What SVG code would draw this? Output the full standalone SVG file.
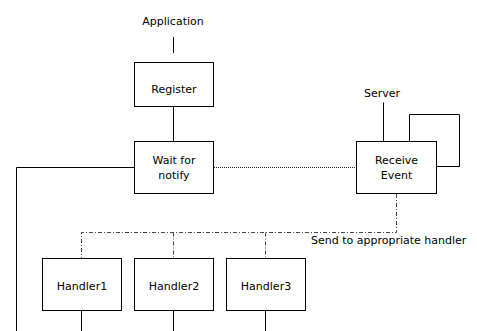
<svg xmlns="http://www.w3.org/2000/svg" width="477" height="331" viewBox="0 0 477 331">
  <style>
    .box { fill: #ffffff; stroke: #000000; stroke-width: 1; }
    .lbl { font-family: "DejaVu Sans", Verdana, sans-serif; font-size: 11px; fill: #000000; }
    .mid { text-anchor: middle; }
    .solid { fill: none; stroke: #000000; stroke-width: 1; }
    .dotted { fill: none; stroke: #222222; stroke-width: 1; stroke-dasharray: 1 1; }
    .dashdot { fill: none; stroke: #444444; stroke-width: 1; stroke-dasharray: 4 2 1 2; }
  </style>
  <rect width="477" height="331" fill="#ffffff"/>

  <!-- connectors -->
  <g id="connectors">
    <path class="solid" d="M173.5 37 V53"/>
    <path class="solid" d="M173.5 106.5 V141.5"/>
    <path class="solid" d="M383.5 102.5 V141.5"/>
    <path class="solid" d="M409.5 141.5 V114.5 H459.5 V166.5 H436.5"/>
    <path class="dotted" d="M214 167.5 H356"/>
    <path class="solid" d="M134.5 167.5 H16.5 V331"/>
    <path class="dashdot" d="M396.5 194 V232.5 H81.5 V258"/>
    <path class="dashdot" d="M173.5 232.5 V258"/>
    <path class="dashdot" d="M265.5 232.5 V258"/>
    <path class="solid" d="M81.5 310.5 V331"/>
    <path class="solid" d="M173.5 310.5 V331"/>
    <path class="solid" d="M265.5 310.5 V331"/>
  </g>

  <!-- free labels -->
  <g id="label-application">
    <text class="lbl mid" x="173" y="25">Application</text>
  </g>
  <g id="label-server">
    <text class="lbl mid" x="382" y="96.5">Server</text>
  </g>
  <g id="label-send">
    <text class="lbl" x="311" y="244">Send to appropriate handler</text>
  </g>

  <!-- nodes -->
  <g id="register">
    <rect class="box" x="134.5" y="62.5" width="79" height="44"/>
    <text class="lbl mid" x="174" y="92.5">Register</text>
  </g>
  <g id="wait-for-notify">
    <rect class="box" x="134.5" y="141.5" width="79" height="52"/>
    <text class="lbl mid" x="174" y="164">Wait for</text>
    <text class="lbl mid" x="174" y="179">notify</text>
  </g>
  <g id="receive-event">
    <rect class="box" x="356.5" y="141.5" width="80" height="52"/>
    <text class="lbl mid" x="396.5" y="163.5">Receive</text>
    <text class="lbl mid" x="396.5" y="178.5">Event</text>
  </g>
  <g id="handler1">
    <rect class="box" x="42.5" y="258.5" width="79" height="52"/>
    <text class="lbl mid" x="82" y="290">Handler1</text>
  </g>
  <g id="handler2">
    <rect class="box" x="134.5" y="258.5" width="79" height="52"/>
    <text class="lbl mid" x="174" y="290">Handler2</text>
  </g>
  <g id="handler3">
    <rect class="box" x="226.5" y="258.5" width="79" height="52"/>
    <text class="lbl mid" x="266" y="290">Handler3</text>
  </g>
</svg>
